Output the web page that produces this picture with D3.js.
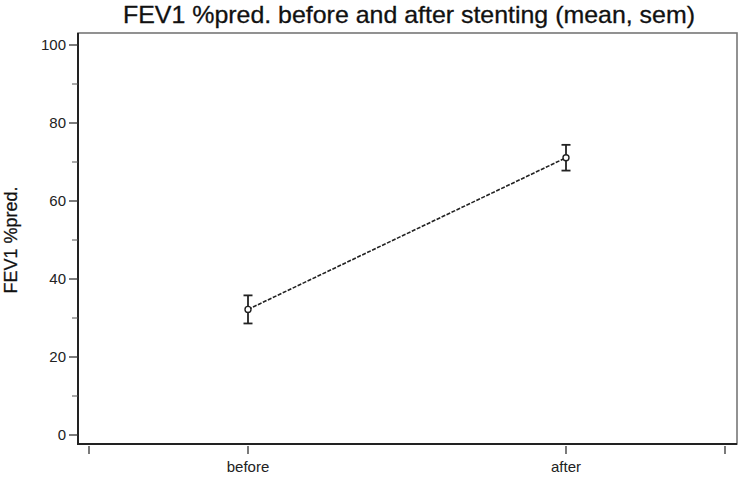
<!DOCTYPE html>
<html>
<head>
<meta charset="utf-8">
<script src="https://cdn.jsdelivr.net/npm/d3@7"></script>
<style>
  body { margin: 0; background: #fff; }
  text { font-family: "Liberation Sans", Arial, sans-serif; }
</style>
</head>
<body>
<script>
// data
var groups = ["before", "after"];
var groupPos = [1, 2];
var means = [32.2, 71.1];
var sems = [3.6, 3.3];
var yTicks = [0, 20, 40, 60, 80, 100];
var yMinor = [10, 30, 50, 70, 90];
var xEnds = [0.5, 2.5];

var width = 749, height = 486;
var frame = { left: 78, right: 737, top: 33, bottom: 444 };

var svg = d3.select("body").append("svg")
  .attr("width", width)
  .attr("height", height);

var x = d3.scaleLinear().domain([0.5, 2.5]).range([89, 725]);
var y = d3.scaleLinear().domain([0, 100]).range([435, 45]);

// title
svg.append("text")
  .attr("x", 409)
  .attr("y", 23)
  .attr("text-anchor", "middle")
  .attr("font-size", 24)
  .attr("textLength", 572)
  .attr("lengthAdjust", "spacingAndGlyphs")
  .attr("fill", "#111")
  .attr("stroke", "#111")
  .attr("stroke-width", 0.3)
  .text("FEV1 %pred. before and after stenting (mean, sem)");

// frame
svg.append("rect")
  .attr("x", frame.left)
  .attr("y", frame.top)
  .attr("width", frame.right - frame.left)
  .attr("height", frame.bottom - frame.top)
  .attr("fill", "none")
  .attr("stroke", "#777")
  .attr("stroke-width", 1.6);
svg.append("path")
  .attr("d", "M" + frame.left + "," + frame.top + "V" + frame.bottom + "H" + frame.right)
  .attr("fill", "none")
  .attr("stroke", "#222")
  .attr("stroke-width", 2);

// y axis
var yAxis = svg.append("g").attr("transform", "translate(" + frame.left + ",0)");
yAxis.selectAll(".major").data(yTicks).enter().append("line")
  .attr("x1", -9).attr("x2", 0)
  .attr("y1", d => y(d)).attr("y2", d => y(d))
  .attr("stroke", "#333").attr("stroke-width", 1.3);
yAxis.selectAll(".minor").data(yMinor).enter().append("line")
  .attr("x1", -6).attr("x2", 0)
  .attr("y1", d => y(d)).attr("y2", d => y(d))
  .attr("stroke", "#555").attr("stroke-width", 1);
yAxis.selectAll("text").data(yTicks).enter().append("text")
  .attr("x", -12)
  .attr("y", d => y(d))
  .attr("dy", "0.36em")
  .attr("text-anchor", "end")
  .attr("font-size", 15)
  .attr("fill", "#222")
  .text(d => d);

svg.append("text")
  .attr("transform", "translate(17,240) rotate(-90)")
  .attr("text-anchor", "middle")
  .attr("font-size", 18)
  .attr("fill", "#111")
  .attr("stroke", "#111")
  .attr("stroke-width", 0.25)
  .text("FEV1 %pred.");

// x axis
var xTicks = xEnds.concat(groupPos);
svg.append("g").selectAll("line").data(xTicks).enter().append("line")
  .attr("x1", d => x(d)).attr("x2", d => x(d))
  .attr("y1", frame.bottom + 2).attr("y2", frame.bottom + 10)
  .attr("stroke", "#333").attr("stroke-width", 1.3);
svg.append("g").selectAll("text").data(groups).enter().append("text")
  .attr("x", (d, i) => x(groupPos[i]))
  .attr("y", 472)
  .attr("text-anchor", "middle")
  .attr("font-size", 15)
  .attr("fill", "#222")
  .text(d => d);

// line between means
var line = d3.line()
  .x((d, i) => x(groupPos[i]))
  .y(d => y(d));
svg.append("path")
  .datum(means)
  .attr("d", line)
  .attr("fill", "none")
  .attr("stroke", "#222")
  .attr("stroke-width", 1.6)
  .attr("stroke-dasharray", "4,1.5");

// error bars
var bars = svg.append("g").selectAll("g").data(means).enter().append("g");
bars.append("line")
  .attr("x1", (d, i) => x(groupPos[i])).attr("x2", (d, i) => x(groupPos[i]))
  .attr("y1", (d, i) => y(d + sems[i])).attr("y2", (d, i) => y(d - sems[i]))
  .attr("stroke", "#222").attr("stroke-width", 1.8);
bars.append("line")
  .attr("x1", (d, i) => x(groupPos[i]) - 4.5).attr("x2", (d, i) => x(groupPos[i]) + 4.5)
  .attr("y1", (d, i) => y(d + sems[i])).attr("y2", (d, i) => y(d + sems[i]))
  .attr("stroke", "#222").attr("stroke-width", 1.8);
bars.append("line")
  .attr("x1", (d, i) => x(groupPos[i]) - 4.5).attr("x2", (d, i) => x(groupPos[i]) + 4.5)
  .attr("y1", (d, i) => y(d - sems[i])).attr("y2", (d, i) => y(d - sems[i]))
  .attr("stroke", "#222").attr("stroke-width", 1.8);
bars.append("circle")
  .attr("cx", (d, i) => x(groupPos[i]))
  .attr("cy", d => y(d))
  .attr("r", 3)
  .attr("fill", "#fff")
  .attr("stroke", "#222")
  .attr("stroke-width", 1.4);
</script>
</body>
</html>
